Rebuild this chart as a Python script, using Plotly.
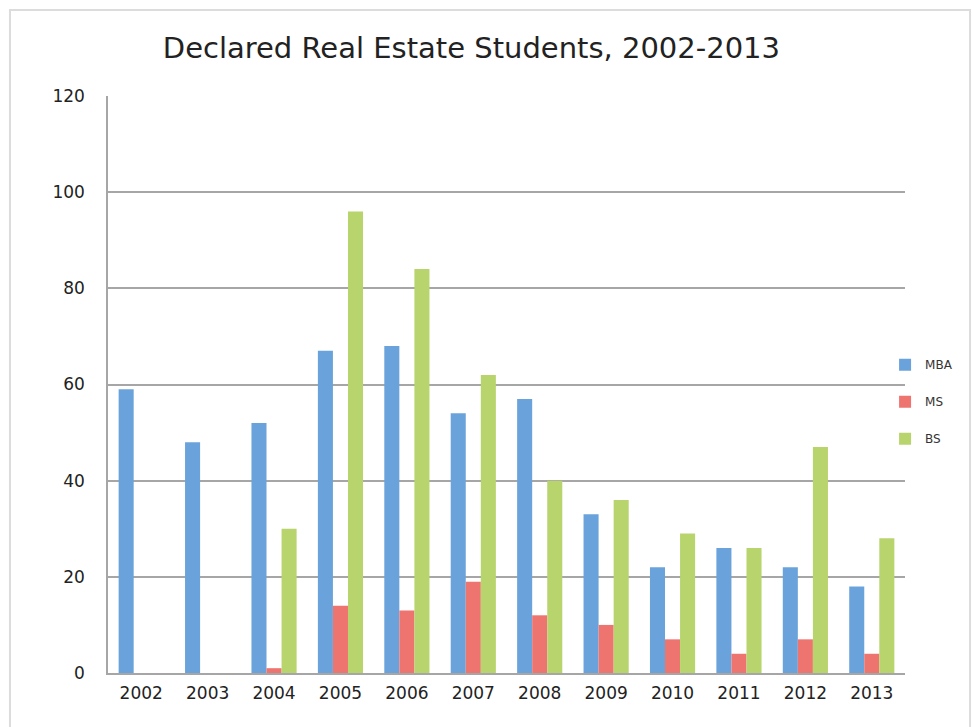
import plotly.graph_objects as go

# Declared real estate students by program and year
years = ["2002", "2003", "2004", "2005", "2006", "2007", "2008", "2009", "2010", "2011", "2012", "2013"]
mba = [59, 48, 52, 67, 68, 54, 57, 33, 22, 26, 22, 18]
ms = [0, 0, 1, 14, 13, 19, 12, 10, 7, 4, 7, 4]
bs = [0, 0, 30, 96, 84, 62, 40, 36, 29, 26, 47, 28]

y_ticks = [0, 20, 40, 60, 80, 100, 120]

series = [
    ("MBA", mba, "#6aa3db"),
    ("MS", ms, "#ee7470"),
    ("BS", bs, "#b8d46c"),
]

fig = go.Figure()
for name, vals, color in series:
    fig.add_trace(go.Bar(
        x=years, y=vals, name=name, legendgroup=name,
        marker=dict(color=color, line=dict(width=0)),
    ))

FONT = "DejaVu Sans"

fig.update_layout(
    width=972, height=727,
    margin=dict(l=108, r=67, t=96, b=54, autoexpand=False),
    paper_bgcolor="white", plot_bgcolor="white",
    barmode="group", bargap=0.32, bargroupgap=0,
    title=dict(
        text="Declared Real Estate Students, 2002-2013",
        x=0.485, xanchor="center", y=0.934, yanchor="middle",
        font=dict(family=FONT, size=29, color="#222222"),
    ),
    font=dict(family=FONT, color="#222222"),
    legend=dict(
        x=0.975, xanchor="left", y=0.47, yanchor="middle",
        font=dict(family=FONT, size=12, color="#333333"),
        tracegroupgap=18, itemwidth=30, bgcolor="rgba(0,0,0,0)",
    ),
    showlegend=True,
)

fig.update_xaxes(
    showgrid=False, showline=True, linecolor="#a6a6a6", linewidth=1.5,
    ticks="", ticklabelstandoff=4,
    tickfont=dict(family=FONT, size=17, color="#222222"),
)
fig.update_yaxes(
    range=[0, 120], tickvals=y_ticks,
    showgrid=True, gridcolor="#a6a6a6", gridwidth=1.5,
    showline=True, linecolor="#a6a6a6", linewidth=1.5,
    ticks="", ticklabelstandoff=18, zeroline=False,
    tickfont=dict(family=FONT, size=17, color="#222222"),
)

# Light frame around the whole chart
fig.add_shape(
    type="rect", xref="paper", yref="paper",
    x0=-0.123, x1=1.0816, y0=-0.116, y1=1.149,
    line=dict(color="#dcdcdc", width=2), fillcolor="rgba(0,0,0,0)",
    layer="below",
)

fig.write_html("out.html")
